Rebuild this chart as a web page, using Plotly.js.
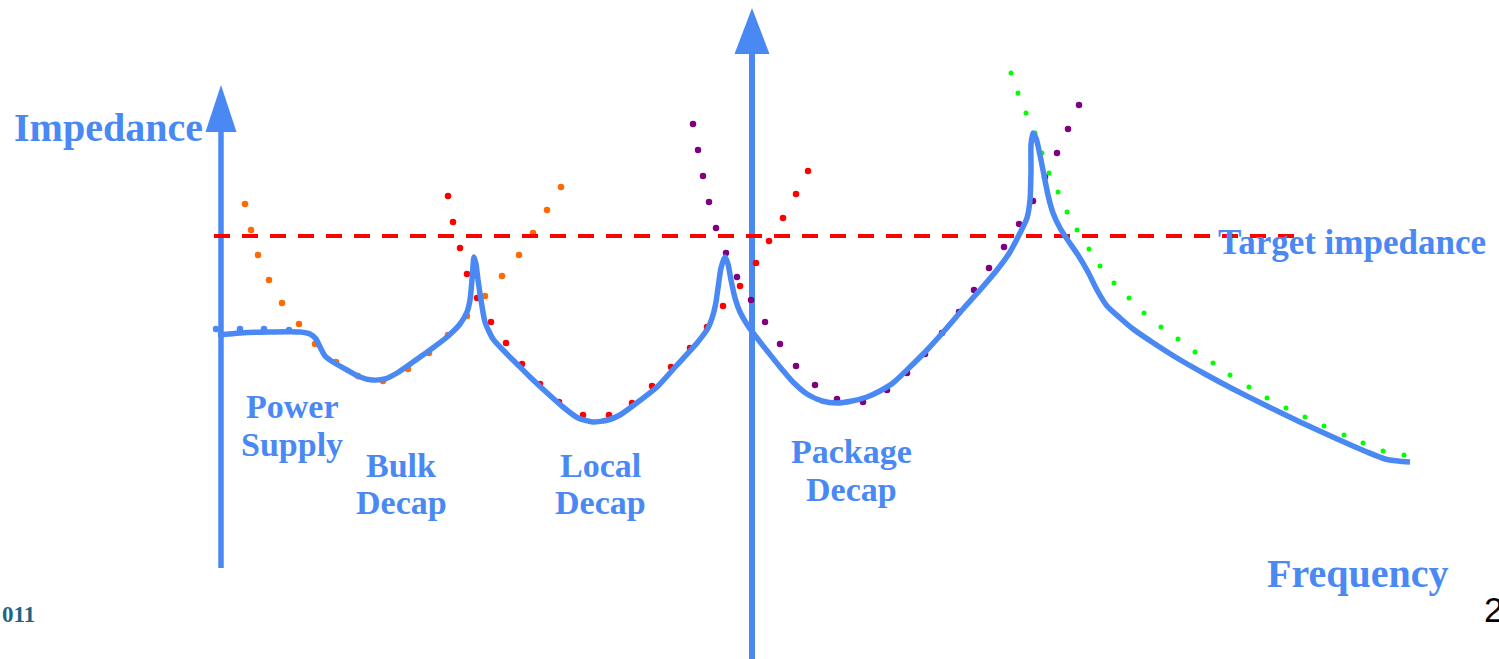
<!DOCTYPE html>
<html><head><meta charset="utf-8">
<script src="https://cdn.plot.ly/plotly-3.0.1.min.js"></script>
<style>html,body{margin:0;padding:0;background:#fff;overflow:hidden}#chart{width:1499px;height:659px}</style>
</head><body><div id="chart"></div>
<script>
// Frequency (x) and impedance (y, screen-oriented units: smaller = higher impedance)
const totalFreq = [218,240,267,300,310,316,320,325,333,347,360,372,385,397,413,430,447,460,467,470,472,473,474,476,478,481,485,493,505,517,530,545,563,578,593,608,620,638,657,677,697,708,713,716,718,721,725,728,731,735,740,748,757,768,780,793,807,822,837,852,867,880,893,910,927,945,963,980,997,1010,1020,1027,1030,1031,1031,1033,1036,1040,1043,1048,1053,1060,1067,1078,1088,1097,1107,1120,1133,1155,1177,1205,1233,1267,1300,1335,1367,1385,1398,1410];
const totalZ    = [335,333,332,332,334,339,347,356,362,370,377,380,379,373,362,350,337,324,312,300,280,266,257,264,280,300,322,339,352,364,377,391,407,418,422,420,415,402,387,365,343,328,315,302,288,268,257,264,280,298,312,326,338,352,367,382,394,401,403,401,397,391,383,367,350,330,309,290,270,252,233,218,200,170,145,133,138,155,170,195,213,228,239,255,272,290,306,318,329,344,358,374,389,406,422,438,452,459,461,462];

const supplyFreq = [216,240,264,289];
const supplyZ    = [329,329,329,330];

const bulkFreq = [245,251,258,269,282,299,315,336,358,383,408,429,448,467,485,502,519,533,547,561];
const bulkZ    = [204,230,255,280,303,324,344,362,376,381,369,353,335,316,296,276,255,233,210,187];

const localFreq = [448,453,460,467,477,491,506,522,540,559,583,609,632,652,671,690,707,723,740,756,769,783,796,808];
const localZ    = [196,222,248,274,298,322,343,364,384,402,415,415,403,386,367,348,327,306,286,263,241,218,194,171];

const pkgFreq = [693,698,703,709,716,726,737,751,765,780,796,815,837,863,887,907,925,942,959,974,989,1004,1019,1033,1045,1057,1068,1079];
const pkgZ    = [124,150,176,202,228,253,277,300,322,344,366,385,399,402,390,373,354,333,312,290,268,247,224,201,177,153,129,105];

const dieFreq = [1011,1018,1026,1035,1042,1049,1058,1067,1077,1089,1100,1114,1129,1144,1161,1178,1195,1213,1230,1249,1267,1286,1305,1324,1344,1363,1383,1404];
const dieZ    = [73,93,113,133,153,173,192,212,230,249,266,283,298,313,327,339,352,363,375,387,398,408,417,426,435,443,451,455];

const targetFreq = [214,1295];
const targetZ = [236,236];

const impAxis = {x:[221,221], y:[568,132]};
const freqAxis = {x:[752,752], y:[665,54]};

const labels = [
  {t:'Power', x:292, y:406}, {t:'Supply', x:292, y:444},
  {t:'Bulk', x:401, y:465}, {t:'Decap', x:401, y:502},
  {t:'Local', x:600, y:465}, {t:'Decap', x:600, y:502},
  {t:'Package', x:851, y:451}, {t:'Decap', x:851, y:489}
];

const BLUE = '#4a89f3';
const SERIF = 'Liberation Serif, Times New Roman, serif';

const traces = [
  {x:impAxis.x, y:impAxis.y, mode:'lines', line:{color:BLUE, width:5.5}, hoverinfo:'skip'},
  {x:freqAxis.x, y:freqAxis.y, mode:'lines', line:{color:BLUE, width:6}, hoverinfo:'skip'},
  {x:supplyFreq, y:supplyZ, mode:'markers', marker:{color:BLUE, size:6.5}},
  {x:bulkFreq, y:bulkZ, mode:'markers', marker:{color:'#ff6a00', size:6.5}},
  {x:localFreq, y:localZ, mode:'markers', marker:{color:'#ff0000', size:6.5}},
  {x:pkgFreq, y:pkgZ, mode:'markers', marker:{color:'#800080', size:6.5}},
  {x:dieFreq, y:dieZ, mode:'markers', marker:{color:'#00ff00', size:5}},
  {x:targetFreq, y:targetZ, mode:'lines', line:{color:'#ff0000', width:4, dash:'16px,12px'}},
  {x:totalFreq, y:totalZ, mode:'lines', line:{color:BLUE, width:5.5, shape:'spline', smoothing:0.6}}
];

const annotations = [
  {x:12, y:127, xanchor:'left', yanchor:'middle', text:'Impedance', font:{family:SERIF, size:40, color:BLUE, weight:'bold'}},
  {x:1216, y:242, xanchor:'left', yanchor:'middle', text:'Target impedance', font:{family:SERIF, size:35, color:BLUE, weight:'bold'}},
  {x:1265, y:573, xanchor:'left', yanchor:'middle', text:'Frequency', font:{family:SERIF, size:40, color:BLUE, weight:'bold'}},
  {x:0, y:614, xanchor:'left', yanchor:'middle', text:'011', font:{family:SERIF, size:23, color:'#1d6583', weight:'bold'}},
  {x:1482, y:609, xanchor:'left', yanchor:'middle', text:'2', font:{family:'Liberation Sans, Arial, sans-serif', size:35, color:'#000'}}
].concat(labels.map(l => ({x:l.x, y:l.y, xanchor:'center', yanchor:'middle', text:l.t,
  font:{family:SERIF, size:34, color:BLUE, weight:'bold'}})));
annotations.forEach(a => { a.showarrow = false; a.xref = 'x'; a.yref = 'y'; });

const shapes = [
  {type:'path', path:'M 205.5 132 L 236.5 132 L 221 85 Z', fillcolor:BLUE, line:{width:0}, xref:'x', yref:'y'},
  {type:'path', path:'M 734.5 54 L 769.5 54 L 752 8 Z', fillcolor:BLUE, line:{width:0}, xref:'x', yref:'y'}
];

const layout = {
  width:1499, height:659, margin:{l:0,r:0,t:0,b:0},
  paper_bgcolor:'#fff', plot_bgcolor:'#fff', showlegend:false,
  xaxis:{range:[0,1499], visible:false, fixedrange:true},
  yaxis:{range:[659,0], visible:false, fixedrange:true},
  annotations, shapes
};

Plotly.newPlot('chart', traces, layout, {displayModeBar:false, staticPlot:true});
</script></body></html>
